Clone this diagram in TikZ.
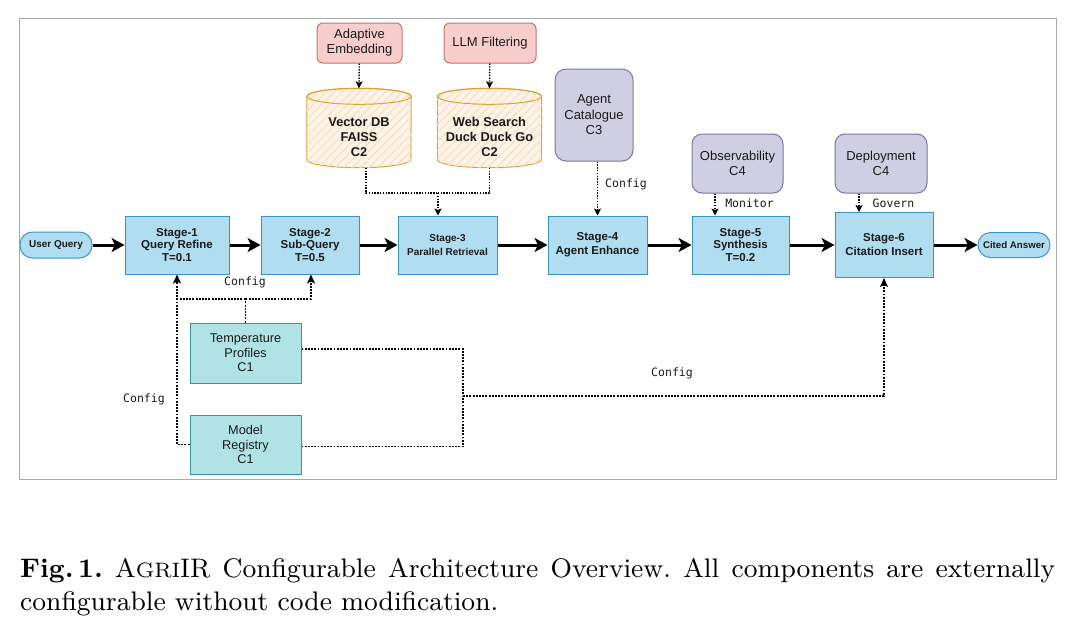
\documentclass[tikz,border=0pt]{standalone}
\usepackage{graphicx}
\usepackage{fontspec}
\setsansfont{Liberation Sans}
\newfontfamily\monof{DejaVu Sans Mono}
\usetikzlibrary{arrows.meta,patterns.meta}
\definecolor{stfill}{HTML}{B1DDF0}
\definecolor{stdraw}{HTML}{3B95C4}
\definecolor{pkfill}{HTML}{F8CECC}
\definecolor{pkdraw}{HTML}{C9716D}
\definecolor{pufill}{HTML}{D0CEE2}
\definecolor{pudraw}{HTML}{7A76A0}
\definecolor{tlfill}{HTML}{B0E3E6}
\definecolor{tldraw}{HTML}{2E9AA0}
\definecolor{ordraw}{HTML}{E0A030}
\definecolor{cylfill}{HTML}{FFF5EA}
\definecolor{cylhatch}{HTML}{FBE2C6}
\definecolor{framec}{HTML}{AAAAAA}
\definecolor{txt}{HTML}{1A1A1A}
\tikzset{
  stagebox/.style={draw=stdraw, fill=stfill, line width=1pt, minimum height=58pt,
    align=center, inner sep=0pt, text=txt,
    font=\sffamily\bfseries\fontsize{11.5}{12.5}\selectfont},
  stadium/.style={draw=stdraw, fill=stfill, line width=1pt, minimum height=26pt,
    minimum width=72pt, rounded corners=12.5pt, inner sep=0pt, text=txt,
    font=\sffamily\bfseries\fontsize{10}{12}\selectfont},
  pinkbox/.style={draw=pkdraw, fill=pkfill, line width=1pt, rounded corners=6pt,
    minimum height=40pt, align=center, inner sep=0pt, text=txt,
    font=\sffamily\fontsize{13}{15}\selectfont},
  purplebox/.style={draw=pudraw, fill=pufill, line width=1pt, rounded corners=11pt,
    align=center, inner sep=0pt, text=txt,
    font=\sffamily\fontsize{13}{15.5}\selectfont},
  tealbox/.style={draw=tldraw, fill=tlfill, line width=1pt, minimum width=111pt,
    align=center, inner sep=0pt, text=txt,
    font=\sffamily\fontsize{12.7}{14.5}\selectfont},
  cylslot/.style={minimum width=104pt, minimum height=79pt, inner sep=0pt},
  cyltext/.style={align=center, text=txt, inner sep=0pt,
    font=\sffamily\bfseries\fontsize{12.8}{15}\selectfont},
  cylbody/.style={draw=ordraw, line width=1pt, fill=cylfill,
    postaction={pattern={Lines[angle=45,distance=6pt,line width=1.6pt]}, pattern color=cylhatch}},
  mainarrow/.style={line width=3pt, -{Stealth[length=13pt,width=14pt,inset=3.5pt]}},
  thindot/.style={line width=1.1pt, dash pattern=on 1.4pt off 1.4pt},
  thinarrow/.style={thindot, -{Stealth[length=7pt,width=7pt,inset=1.5pt]}},
  thickdot/.style={line width=1.9pt, dash pattern=on 1.9pt off 1.3pt},
  thickarrow/.style={thickdot, -{Stealth[length=9pt,width=8pt,inset=2pt]}},
  cfglabel/.style={inner sep=0pt, text=txt, font=\monof\fontsize{11.5}{13}\selectfont},
  captext/.style={anchor=base west, inner sep=0pt},
}
\begin{document}
\begin{tikzpicture}[x=1pt,y=1pt]
\useasboundingbox (0,0) rectangle (1073,-630);
\draw[framec, line width=1pt] (19,-18) rectangle (1056,-479);

% main row
\node[stadium] (uq) at (56,-245) {User Query};
\node[stagebox, minimum width=104pt] (s1) at (177,-245) {Stage-1\\Query Refine\\T=0.1};
\node[stagebox, minimum width=98pt] (s2) at (310,-245) {Stage-2\\Sub-Query\\T=0.5};
\node[stagebox, minimum width=99pt, font=\sffamily\bfseries\fontsize{10}{13.3}\selectfont] (s3) at (447.5,-245) {Stage-3\\Parallel Retrieval};
\node[stagebox, minimum width=99pt, font=\sffamily\bfseries\fontsize{11.5}{14}\selectfont] (s4) at (597.5,-245) {Stage-4\\Agent Enhance};
\node[stagebox, minimum width=97pt] (s5) at (740.5,-245) {Stage-5\\Synthesis\\T=0.2};
\node[stagebox, minimum width=98pt, minimum height=65pt, font=\sffamily\bfseries\fontsize{11.5}{14}\selectfont] (s6) at (884,-245) {Stage-6\\Citation Insert};
\node[stadium, minimum height=25pt, font=\sffamily\bfseries\fontsize{9.7}{12}\selectfont] (ca) at (1014,-245) {Cited Answer};

% top row
\node[pinkbox, minimum width=85pt] (ae) at (359.5,-43) {Adaptive\\Embedding};
\node[pinkbox, minimum width=92pt] (llm) at (490,-43) {LLM Filtering};
\node[cylslot] (vdb) at (359,-128) {};
\node[cylslot] (ws) at (489.5,-128) {};
\foreach \n in {vdb,ws}{
  \path[cylbody] ([yshift=-8pt]\n.north west) -- ([yshift=8pt]\n.south west)
    arc[start angle=180,end angle=360,x radius=52pt,y radius=8pt]
    -- ([yshift=-8pt]\n.north east)
    arc[start angle=0,end angle=180,x radius=52pt,y radius=8pt] -- cycle;
  \draw[ordraw, line width=1pt] ([yshift=-8pt]\n.north) ellipse[x radius=52pt,y radius=8pt];
}
\node[cyltext] (vdbt) at ([yshift=-9pt]vdb.center) {Vector DB\\FAISS\\C2};
\node[cyltext] (wst) at ([yshift=-9pt]ws.center) {Web Search\\Duck Duck Go\\C2};
\node[purplebox, minimum width=78pt, minimum height=92pt] (cat) at (594,-115) {Agent\\Catalogue\\C3};
\node[purplebox, minimum width=91pt, minimum height=59pt, rounded corners=10pt] (obs) at (737.5,-163.5) {Observability\\C4};
\node[purplebox, minimum width=92pt, minimum height=59pt, rounded corners=10pt] (dep) at (881,-163.5) {Deployment\\C4};

% bottom
\node[tealbox, minimum height=60pt] (tp) at (245.5,-353) {Temperature\\Profiles\\C1};
\node[tealbox, minimum height=59pt] (mr) at (245.5,-444.5) {Model\\Registry\\C1};

% main arrows
\draw[mainarrow] (uq) -- (s1);
\draw[mainarrow] (s1) -- (s2);
\draw[mainarrow] (s2) -- (s3);
\draw[mainarrow] (s3) -- (s4);
\draw[mainarrow] (s4) -- (s5);
\draw[mainarrow] (s5) -- (s6);
\draw[mainarrow] (s6) -- (ca);

% top dotted
\draw[thinarrow, line width=1.4pt] (ae) -- (vdb.north);
\draw[thinarrow, line width=1.4pt] (llm) -- (ws.north);
\coordinate (j3) at (438,-193);
\draw[thindot] ([xshift=7pt]vdb.south) |- (j3);
\draw[thindot] (ws.south) |- (j3);
\draw[thinarrow] (j3) -- (s3.north -| j3);
\draw[thinarrow] (cat.south -| s4.north) -- (s4.north);
\node[cfglabel] (l4) at (626,-184) {Config};
\coordinate (o5) at ([xshift=-25.5pt]s5.north);
\draw[thinarrow] (obs.south -| o5) -- (o5);
\node[cfglabel] (l5) at (749.5,-203.5) {Monitor};
\coordinate (o6) at ([xshift=-25pt]s6.north);
\draw[thinarrow] (dep.south -| o6) -- (o6);
\node[cfglabel] (l6) at (893.5,-203.5) {Govern};

% bottom config lines
\coordinate (jt) at (245.5,-299);
\draw[thickdot] (tp.north) -- (jt);
\draw[thickarrow] (jt) -| (s1.south);
\draw[thickarrow] (jt) -| ([xshift=1pt]s2.south);
\node[cfglabel] (l1) at (245,-282) {Config};
\draw[thickdot] (mr.west) -| ([yshift=-12pt]s1.south);
\node[cfglabel] (l2) at (144,-399) {Config};
\coordinate (jr) at (463,-396);
\draw[thickdot] ([yshift=4pt]tp.east) -| (jr);
\draw[thickdot] ([yshift=-2pt]mr.east) -| (jr);
\draw[thickarrow] (jr) -| (s6.south);
\node[cfglabel] (l3) at (672,-373) {Config};

% caption
\node[captext] (cap1) at (20,-577)
  {\scalebox{2.98}{\fontsize{9}{11}\selectfont\frenchspacing\hbox to 347.3pt{{\bfseries Fig.\,1.} A{\fontsize{7}{11}\selectfont GRI}IR Configurable Architecture Overview. All components are externally}}};
\node[captext] (cap2) at (20,-610)
  {\scalebox{2.98}{\fontsize{9}{11}\selectfont configurable without code modification.}};
\end{tikzpicture}
\end{document}
